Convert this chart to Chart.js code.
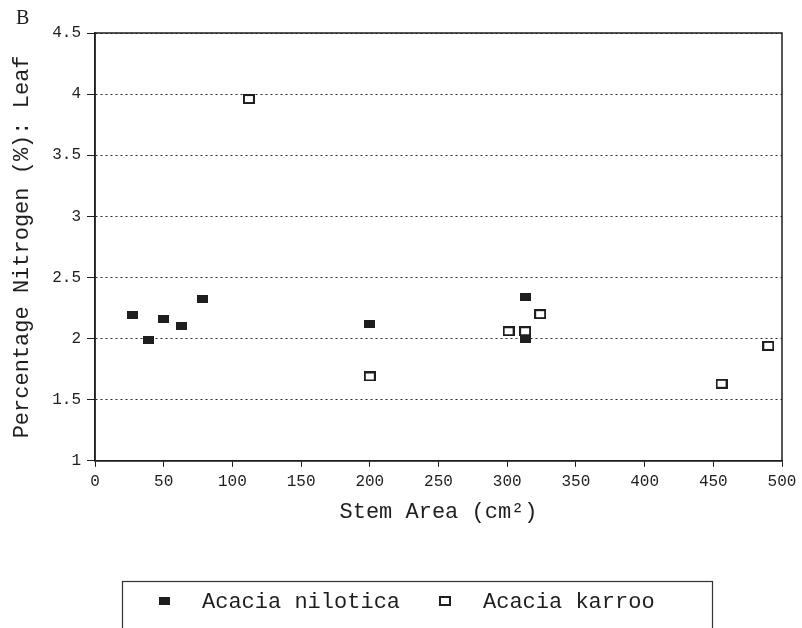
<!DOCTYPE html>
<html>
<head>
<meta charset="utf-8">
<script src="https://cdn.jsdelivr.net/npm/chart.js@4/dist/chart.umd.min.js"></script>
<style>
html,body{margin:0;padding:0;background:#fff;}
#wrap{position:relative;width:802px;height:628px;}
</style>
</head>
<body>
<div id="wrap"><canvas id="c" width="802" height="628"></canvas></div>
<script>
const seriesNames = ["Acacia nilotica", "Acacia karroo"];
const niloticaX = [27, 39, 50, 63, 78, 200, 313, 313];
const niloticaY = [2.19, 1.99, 2.16, 2.10, 2.32, 2.12, 2.34, 2.00];
const karrooX = [112, 200, 301, 313, 324, 456, 490];
const karrooY = [3.96, 1.69, 2.06, 2.06, 2.20, 1.63, 1.94];
const xTicks = [0, 50, 100, 150, 200, 250, 300, 350, 400, 450, 500];
const yTicks = [1, 1.5, 2, 2.5, 3, 3.5, 4, 4.5];

const mono = "'Liberation Mono', 'DejaVu Sans Mono', monospace";
const ink = '#1e1e1e';

function makeMarker(w, h, filled) {
  const c = document.createElement('canvas');
  c.width = w; c.height = h;
  const g = c.getContext('2d');
  g.fillStyle = ink;
  g.fillRect(0, 0, w, h);
  if (!filled) {
    g.fillStyle = '#fff';
    g.fillRect(2, 2, w - 4, h - 4);
  }
  return c;
}
const filledMark = makeMarker(11, 8, true);
const openMark = makeMarker(12, 10, false);

const framePlugin = {
  id: 'frame',
  afterDatasetsDraw(chart) {
    const {ctx, chartArea: a} = chart;
    ctx.save();
    ctx.strokeStyle = ink;
    ctx.lineWidth = 1.5;
    ctx.strokeRect(a.left, a.top, a.right - a.left, a.bottom - a.top);
    ctx.restore();
  },
  afterDraw(chart) {
    const ctx = chart.ctx;
    const ds = chart.data.datasets;
    ctx.save();
    ctx.strokeStyle = '#333';
    ctx.lineWidth = 1.2;
    ctx.strokeRect(122.5, 581.5, 590, 60);
    const itemX = [164, 444.5];
    const textX = [202, 483];
    const cy = 601;
    ctx.font = "22px " + mono;
    ctx.fillStyle = ink;
    ctx.textBaseline = 'middle';
    ctx.textAlign = 'left';
    ds.forEach((d, i) => {
      const img = d.pointStyle;
      ctx.drawImage(img, Math.round(itemX[i] - img.width / 2), Math.round(cy - img.height / 2));
      ctx.fillText(d.label, textX[i], cy + 1);
    });
    ctx.restore();
  }
};

const pts = (xs, ys) => xs.map((x, i) => ({x: x, y: ys[i]}));

new Chart(document.getElementById('c'), {
  type: 'scatter',
  data: {
    datasets: [
      {
        label: seriesNames[0],
        data: pts(niloticaX, niloticaY),
        pointStyle: filledMark,
        backgroundColor: ink,
        borderColor: ink
      },
      {
        label: seriesNames[1],
        data: pts(karrooX, karrooY),
        pointStyle: openMark,
        backgroundColor: '#fff',
        borderColor: ink
      }
    ]
  },
  options: {
    responsive: false,
    animation: false,
    layout: {padding: {left: 16, right: 20, top: 4, bottom: 103}},
    plugins: {
      title: {
        display: true,
        text: 'B',
        align: 'start',
        color: ink,
        font: {family: "'Liberation Serif', serif", size: 20, weight: 'normal'},
        padding: {top: 3, bottom: 2}
      },
      legend: {display: false},
      tooltip: {enabled: false}
    },
    scales: {
      x: {
        type: 'linear',
        min: 0,
        max: 500,
        afterBuildTicks: (s) => { s.ticks = xTicks.map(v => ({value: v})); },
        ticks: {
          color: ink,
          font: {family: mono, size: 16},
          padding: 5,
          maxRotation: 0,
          callback: (v) => String(v)
        },
        grid: {
          display: true,
          drawOnChartArea: false,
          drawTicks: true,
          tickLength: 6,
          color: ink
        },
        border: {display: true, color: ink, width: 1.5},
        title: {
          display: true,
          text: 'Stem Area (cm²)',
          color: ink,
          font: {family: mono, size: 22},
          padding: {top: 2.6, bottom: 0}
        }
      },
      y: {
        type: 'linear',
        min: 1,
        max: 4.5,
        afterBuildTicks: (s) => { s.ticks = yTicks.map(v => ({value: v})); },
        ticks: {
          color: ink,
          font: {family: mono, size: 16},
          padding: 6,
          callback: (v) => String(v)
        },
        grid: {
          display: true,
          color: '#2a2a2a',
          lineWidth: 1,
          tickBorderDash: [],
          tickLength: 8,
          tickColor: ink
        },
        border: {display: true, color: ink, width: 1.5, dash: [2, 3]},
        title: {
          display: true,
          text: 'Percentage Nitrogen (%): Leaf',
          color: ink,
          font: {family: mono, size: 22, lineHeight: 0.6},
          padding: {top: 0, bottom: 17}
        }
      }
    }
  },
  plugins: [framePlugin]
});
</script>
</body>
</html>
